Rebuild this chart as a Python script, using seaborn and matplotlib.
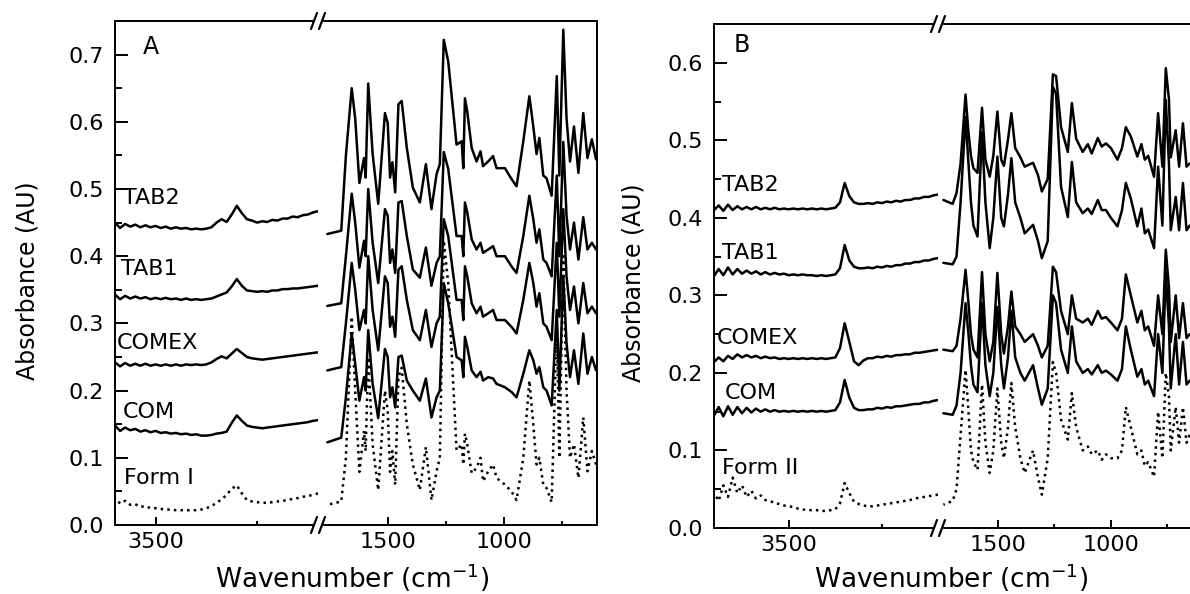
import pandas as pd
import seaborn as sns
import matplotlib.pyplot as plt
from matplotlib.lines import Line2D
from matplotlib.ticker import MultipleLocator, FixedLocator, FormatStrFormatter

# ---------------- data ----------------
# high wavenumber window, panel A (3700 -> 2700)
hw_A = [3700, 3675, 3650, 3625, 3600, 3575, 3550, 3525, 3500, 3475, 3450, 3425, 3400, 3375,
        3350, 3325, 3300, 3275, 3250, 3225, 3200, 3175, 3150, 3125, 3100, 3075, 3050, 3025,
        3000, 2975, 2950, 2925, 2900, 2875, 2850, 2825, 2800, 2775, 2750, 2725, 2700]
tab2_hw_A = [0.450, 0.442, 0.448, 0.444, 0.447, 0.443, 0.446, 0.443, 0.445, 0.442, 0.444, 0.441,
             0.443, 0.441, 0.442, 0.440, 0.441, 0.440, 0.441, 0.443, 0.450, 0.455, 0.451, 0.462,
             0.475, 0.464, 0.455, 0.453, 0.450, 0.452, 0.451, 0.454, 0.453, 0.456, 0.456, 0.459,
             0.458, 0.461, 0.462, 0.465, 0.467]
tab1_hw_A = [0.343, 0.336, 0.341, 0.337, 0.340, 0.337, 0.339, 0.336, 0.338, 0.336, 0.338, 0.336,
             0.337, 0.335, 0.337, 0.335, 0.336, 0.335, 0.336, 0.337, 0.340, 0.343, 0.346, 0.355,
             0.366, 0.356, 0.349, 0.348, 0.347, 0.348, 0.347, 0.349, 0.349, 0.351, 0.351, 0.352,
             0.352, 0.353, 0.354, 0.355, 0.356]
comex_hw_A = [0.242, 0.236, 0.241, 0.237, 0.240, 0.237, 0.240, 0.237, 0.239, 0.237, 0.239, 0.237,
              0.239, 0.237, 0.239, 0.238, 0.239, 0.238, 0.239, 0.242, 0.247, 0.251, 0.248, 0.255,
              0.262, 0.256, 0.250, 0.248, 0.247, 0.246, 0.247, 0.248, 0.249, 0.250, 0.251, 0.252,
              0.253, 0.254, 0.255, 0.256, 0.257]
com_hw_A = [0.148, 0.140, 0.145, 0.141, 0.143, 0.139, 0.141, 0.138, 0.140, 0.137, 0.138, 0.136,
            0.137, 0.135, 0.136, 0.134, 0.135, 0.133, 0.133, 0.134, 0.136, 0.137, 0.139, 0.152,
            0.163, 0.155, 0.148, 0.146, 0.145, 0.144, 0.145, 0.146, 0.147, 0.148, 0.149, 0.150,
            0.151, 0.152, 0.153, 0.155, 0.156]
form1_hw_A = [0.040, 0.032, 0.036, 0.030, 0.031, 0.027, 0.028, 0.025, 0.025, 0.024, 0.023, 0.023,
              0.022, 0.022, 0.022, 0.022, 0.022, 0.023, 0.025, 0.028, 0.033, 0.038, 0.045, 0.054,
              0.059, 0.047, 0.037, 0.035, 0.034, 0.033, 0.033, 0.034, 0.035, 0.036, 0.037, 0.039,
              0.040, 0.042, 0.043, 0.045, 0.047]

# fingerprint window, panel A (1800 -> 600)
fp_A = [1760, 1700, 1680, 1655, 1640, 1622, 1602, 1595, 1584, 1565,
        1541, 1512, 1500, 1490, 1480, 1468, 1454, 1440, 1418, 1392,
        1362, 1336, 1312, 1290, 1276, 1259, 1240, 1204, 1182, 1175,
        1168, 1158, 1139, 1118, 1101, 1090, 1068, 1047, 1032, 996,
        968, 946, 917, 891, 874, 860, 848, 831, 817, 795,
        773, 762, 745, 731, 716, 699, 680, 659, 641, 622, 604]
tab2_fp_A = [0.433, 0.438, 0.55, 0.650, 0.605, 0.509, 0.546, 0.517, 0.657, 0.552,
             0.478, 0.613, 0.598, 0.517, 0.54, 0.495, 0.626, 0.631, 0.561, 0.502,
             0.48, 0.537, 0.47, 0.522, 0.537, 0.722, 0.69, 0.566, 0.571, 0.531,
             0.635, 0.615, 0.561, 0.541, 0.556, 0.534, 0.541, 0.549, 0.531, 0.531,
             0.515, 0.504, 0.571, 0.638, 0.593, 0.552, 0.576, 0.52, 0.516, 0.49,
             0.668, 0.52, 0.737, 0.605, 0.541, 0.593, 0.524, 0.613, 0.546, 0.574, 0.544]
tab1_fp_A = [0.326, 0.33, 0.40, 0.493, 0.45, 0.383, 0.423, 0.40, 0.50, 0.42,
             0.36, 0.47, 0.46, 0.39, 0.41, 0.375, 0.48, 0.482, 0.43, 0.38,
             0.368, 0.413, 0.356, 0.39, 0.40, 0.555, 0.53, 0.43, 0.43, 0.40,
             0.48, 0.465, 0.425, 0.41, 0.42, 0.405, 0.41, 0.415, 0.40, 0.40,
             0.385, 0.375, 0.43, 0.49, 0.455, 0.42, 0.44, 0.395, 0.39, 0.37,
             0.52, 0.40, 0.57, 0.46, 0.41, 0.45, 0.395, 0.458, 0.41, 0.42, 0.41]
comex_fp_A = [0.23, 0.235, 0.30, 0.39, 0.35, 0.29, 0.32, 0.30, 0.40, 0.32,
              0.26, 0.37, 0.36, 0.295, 0.31, 0.28, 0.38, 0.385, 0.335, 0.29,
              0.275, 0.32, 0.265, 0.30, 0.31, 0.455, 0.43, 0.335, 0.335, 0.305,
              0.385, 0.37, 0.33, 0.315, 0.325, 0.31, 0.315, 0.32, 0.305, 0.305,
              0.295, 0.285, 0.335, 0.39, 0.36, 0.325, 0.345, 0.30, 0.295, 0.275,
              0.42, 0.31, 0.47, 0.37, 0.32, 0.355, 0.30, 0.36, 0.315, 0.325, 0.315]
com_fp_A = [0.123, 0.13, 0.19, 0.285, 0.24, 0.185, 0.22, 0.20, 0.29, 0.21,
            0.159, 0.262, 0.25, 0.19, 0.205, 0.175, 0.25, 0.252, 0.215, 0.20,
            0.185, 0.218, 0.16, 0.19, 0.20, 0.36, 0.33, 0.25, 0.245, 0.22,
            0.28, 0.265, 0.23, 0.22, 0.228, 0.215, 0.22, 0.218, 0.21, 0.205,
            0.198, 0.19, 0.225, 0.26, 0.245, 0.225, 0.235, 0.205, 0.20, 0.178,
            0.32, 0.20, 0.37, 0.27, 0.22, 0.26, 0.21, 0.285, 0.225, 0.25, 0.23]
form1_fp_A = [0.03, 0.035, 0.10, 0.31, 0.20, 0.079, 0.14, 0.11, 0.25, 0.12,
              0.052, 0.20, 0.17, 0.079, 0.11, 0.06, 0.22, 0.234, 0.15, 0.09,
              0.052, 0.116, 0.037, 0.08, 0.10, 0.423, 0.36, 0.111, 0.12, 0.09,
              0.136, 0.12, 0.077, 0.085, 0.10, 0.065, 0.08, 0.09, 0.07, 0.06,
              0.05, 0.037, 0.10, 0.215, 0.15, 0.09, 0.10, 0.06, 0.055, 0.034,
              0.30, 0.10, 0.40, 0.20, 0.10, 0.12, 0.07, 0.16, 0.08, 0.11, 0.09]

# high wavenumber window, panel B (3900 -> 2700)
hw_B = [3900, 3875, 3850, 3825, 3800, 3775, 3750, 3725, 3700, 3675, 3650, 3625, 3600, 3575,
        3550, 3525, 3500, 3475, 3450, 3425, 3400, 3375, 3350, 3325, 3300, 3275, 3250, 3225,
        3200, 3175, 3150, 3125, 3100, 3075, 3050, 3025, 3000, 2975, 2950, 2925, 2900, 2875,
        2850, 2825, 2800, 2775, 2750, 2725, 2700]
tab2_hw_B = [0.410, 0.416, 0.409, 0.417, 0.410, 0.415, 0.411, 0.414, 0.411, 0.414, 0.411, 0.413,
             0.411, 0.413, 0.411, 0.412, 0.411, 0.412, 0.411, 0.412, 0.411, 0.412, 0.411, 0.412,
             0.411, 0.412, 0.413, 0.420, 0.445, 0.428, 0.420, 0.418, 0.418, 0.419, 0.418, 0.420,
             0.419, 0.421, 0.420, 0.422, 0.421, 0.423, 0.423, 0.425, 0.425, 0.427, 0.427, 0.429,
             0.430]
tab1_hw_B = [0.325, 0.334, 0.326, 0.336, 0.327, 0.334, 0.328, 0.332, 0.328, 0.331, 0.327, 0.330,
             0.327, 0.329, 0.327, 0.328, 0.326, 0.327, 0.326, 0.327, 0.326, 0.326, 0.325, 0.326,
             0.325, 0.326, 0.327, 0.335, 0.365, 0.345, 0.337, 0.335, 0.335, 0.336, 0.335, 0.337,
             0.336, 0.338, 0.337, 0.339, 0.339, 0.341, 0.341, 0.343, 0.343, 0.345, 0.345, 0.347,
             0.348]
comex_hw_B = [0.214, 0.220, 0.215, 0.222, 0.218, 0.224, 0.220, 0.223, 0.220, 0.222, 0.219, 0.221,
              0.219, 0.220, 0.218, 0.219, 0.218, 0.219, 0.218, 0.219, 0.218, 0.219, 0.218, 0.219,
              0.218, 0.219, 0.220, 0.232, 0.264, 0.240, 0.215, 0.210, 0.216, 0.219, 0.219, 0.221,
              0.220, 0.222, 0.221, 0.223, 0.223, 0.224, 0.224, 0.226, 0.226, 0.227, 0.228, 0.229,
              0.230]
com_hw_B = [0.145, 0.156, 0.144, 0.157, 0.146, 0.156, 0.148, 0.155, 0.149, 0.154, 0.150, 0.153,
            0.150, 0.152, 0.150, 0.151, 0.150, 0.151, 0.150, 0.151, 0.150, 0.151, 0.150, 0.151,
            0.150, 0.151, 0.152, 0.162, 0.191, 0.168, 0.155, 0.152, 0.152, 0.153, 0.153, 0.155,
            0.154, 0.156, 0.155, 0.157, 0.157, 0.158, 0.159, 0.160, 0.160, 0.162, 0.162, 0.164,
            0.165]
form2_hw_B = [0.045, 0.035, 0.055, 0.040, 0.065, 0.045, 0.055, 0.040, 0.048, 0.038, 0.042, 0.036,
              0.035, 0.032, 0.031, 0.029, 0.028, 0.027, 0.025, 0.024, 0.023, 0.023, 0.023, 0.022,
              0.022, 0.023, 0.024, 0.032, 0.058, 0.045, 0.034, 0.031, 0.029, 0.028, 0.028, 0.029,
              0.030, 0.031, 0.032, 0.033, 0.034, 0.035, 0.036, 0.038, 0.039, 0.040, 0.041, 0.042,
              0.043]

# fingerprint window, panel B
fp_B = [1741, 1700, 1683, 1665, 1643, 1630, 1619, 1608, 1590, 1570,
        1555, 1536, 1520, 1502, 1485, 1473, 1455, 1440, 1423, 1400,
        1381, 1344, 1322, 1305, 1279, 1256, 1242, 1220, 1190, 1172,
        1153, 1124, 1101, 1084, 1057, 1040, 1021, 999, 970, 950,
        933, 911, 882, 864, 849, 834, 808, 790, 771, 756,
        742, 734, 712, 697, 680, 664, 650]
tab2_fp_B = [0.423, 0.418, 0.432, 0.47, 0.559, 0.51, 0.48, 0.464, 0.458, 0.542,
             0.475, 0.453, 0.48, 0.537, 0.475, 0.467, 0.501, 0.535, 0.49, 0.478,
             0.466, 0.471, 0.455, 0.434, 0.45, 0.585, 0.583, 0.517, 0.485, 0.548,
             0.502, 0.485, 0.495, 0.483, 0.503, 0.492, 0.496, 0.49, 0.475, 0.49,
             0.517, 0.505, 0.479, 0.495, 0.475, 0.48, 0.453, 0.535, 0.466, 0.593,
             0.553, 0.478, 0.513, 0.466, 0.522, 0.466, 0.47]
tab1_fp_B = [0.342, 0.34, 0.35, 0.42, 0.53, 0.47, 0.42, 0.39, 0.376, 0.51,
             0.42, 0.361, 0.40, 0.479, 0.40, 0.389, 0.43, 0.477, 0.42, 0.40,
             0.38, 0.391, 0.37, 0.348, 0.37, 0.569, 0.56, 0.44, 0.401, 0.472,
             0.42, 0.406, 0.412, 0.405, 0.423, 0.41, 0.41, 0.40, 0.389, 0.41,
             0.445, 0.425, 0.389, 0.412, 0.38, 0.385, 0.361, 0.466, 0.39, 0.552,
             0.47, 0.384, 0.427, 0.384, 0.445, 0.384, 0.39]
comex_fp_B = [0.23, 0.228, 0.235, 0.27, 0.333, 0.29, 0.25, 0.23, 0.22, 0.33,
              0.25, 0.215, 0.24, 0.329, 0.25, 0.225, 0.26, 0.305, 0.26, 0.25,
              0.24, 0.25, 0.235, 0.22, 0.235, 0.337, 0.33, 0.28, 0.25, 0.30,
              0.27, 0.265, 0.27, 0.262, 0.28, 0.27, 0.272, 0.265, 0.255, 0.27,
              0.327, 0.30, 0.265, 0.28, 0.255, 0.26, 0.235, 0.30, 0.25, 0.359,
              0.31, 0.24, 0.30, 0.245, 0.29, 0.245, 0.25]
com_fp_B = [0.148, 0.146, 0.158, 0.20, 0.29, 0.25, 0.21, 0.185, 0.175, 0.29,
            0.21, 0.17, 0.20, 0.285, 0.21, 0.18, 0.22, 0.28, 0.22, 0.20,
            0.19, 0.21, 0.18, 0.159, 0.18, 0.30, 0.29, 0.23, 0.20, 0.26,
            0.215, 0.20, 0.205, 0.198, 0.21, 0.20, 0.203, 0.198, 0.19, 0.205,
            0.26, 0.23, 0.195, 0.205, 0.185, 0.19, 0.17, 0.25, 0.20, 0.33,
            0.26, 0.18, 0.25, 0.185, 0.24, 0.185, 0.19]
form2_fp_B = [0.03, 0.035, 0.05, 0.12, 0.204, 0.15, 0.10, 0.085, 0.075, 0.185,
              0.11, 0.071, 0.10, 0.18, 0.11, 0.09, 0.13, 0.187, 0.13, 0.09,
              0.071, 0.10, 0.065, 0.043, 0.09, 0.214, 0.20, 0.14, 0.114, 0.174,
              0.13, 0.10, 0.105, 0.095, 0.10, 0.088, 0.095, 0.09, 0.09, 0.10,
              0.156, 0.13, 0.095, 0.10, 0.08, 0.085, 0.066, 0.15, 0.09, 0.20,
              0.17, 0.10, 0.156, 0.11, 0.156, 0.11, 0.12]

labels_A = ["TAB2", "TAB1", "COMEX", "COM", "Form I"]
labels_B = ["TAB2", "TAB1", "COMEX", "COM", "Form II"]

# ---------------- style ----------------
sns.set_style("ticks")
plt.rcParams['font.family'] = ['DejaVu Sans']
plt.rcParams.update({'axes.linewidth': 1.4, 'axes.edgecolor': 'black', 'text.color': 'black',
                     'xtick.color': 'black', 'ytick.color': 'black', 'axes.labelcolor': 'black'})

W, H = 1190, 594
fig = plt.figure(figsize=(W / 100, H / 100), dpi=100)


def axes_px(x0, x1, ytop, ybot):
    return fig.add_axes([x0 / W, 1 - ybot / H, (x1 - x0) / W, (ybot - ytop) / H])


def spectrum(ax, x, y, dotted=False):
    sns.lineplot(x=x, y=y, ax=ax, color='black', lw=1.8, estimator=None,
                 linestyle=':' if dotted else '-', legend=False)


def style_axes(axl, axr, ymax, left_lim, right_lim, left_major, left_minor):
    for ax in (axl, axr):
        ax.set_ylim(0, ymax)
        ax.set_xlabel('')
        ax.set_ylabel('')
        ax.tick_params(axis='x', which='major', direction='in', length=6, width=1.4,
                       labelsize=16, pad=5)
        ax.tick_params(axis='x', which='minor', direction='in', length=3, width=1.4)
    axl.set_xlim(*left_lim)
    axr.set_xlim(*right_lim)
    axl.xaxis.set_major_locator(FixedLocator(left_major))
    axl.xaxis.set_minor_locator(FixedLocator(left_minor))
    axr.xaxis.set_major_locator(FixedLocator([1500, 1000]))
    axr.xaxis.set_minor_locator(FixedLocator([1250, 750]))
    axl.yaxis.set_major_locator(MultipleLocator(0.1))
    axl.yaxis.set_minor_locator(MultipleLocator(0.05))
    axl.yaxis.set_major_formatter(FormatStrFormatter('%.1f'))
    axl.tick_params(axis='y', which='major', direction='in', length=9, width=1.4,
                    labelsize=16, pad=8)
    axl.tick_params(axis='y', which='minor', direction='in', length=5, width=1.4)
    axl.spines['right'].set_visible(False)
    axr.spines['left'].set_visible(False)
    axr.tick_params(axis='y', which='both', left=False, labelleft=False)


def break_marks(xpix, ytop, ybot):
    for yy in (ytop, ybot):
        fig.add_artist(Line2D([(xpix - 3) / W, (xpix + 3) / W], [1 - yy / H, 1 - yy / H],
                              color='white', lw=2.5))
        for dx in (-4, 4):
            fig.add_artist(Line2D([(xpix + dx - 3) / W, (xpix + dx + 3) / W],
                                  [1 - (yy + 8) / H, 1 - (yy - 8) / H], color='black', lw=1.6))


# ---------------- panel A ----------------
axAl = axes_px(115, 318, 21, 525)
axAr = axes_px(318, 597, 21, 525)
for hw, fp, dotted in [(tab2_hw_A, tab2_fp_A, False), (tab1_hw_A, tab1_fp_A, False),
                       (comex_hw_A, comex_fp_A, False), (com_hw_A, com_fp_A, False),
                       (form1_hw_A, form1_fp_A, True)]:
    spectrum(axAl, hw_A, hw, dotted)
    spectrum(axAr, fp_A, fp, dotted)
style_axes(axAl, axAr, 0.75, (3700, 2700), (1800, 600), [3500], [3000])

for lab, yv, xv in zip(labels_A, [0.487, 0.381, 0.271, 0.168, 0.070],
                       [3660, 3670, 3690, 3660, 3655]):
    axAl.text(xv, yv, lab, fontsize=16, va='center', ha='left')
axAl.text(3565, 0.712, "A", fontsize=17, va='center', ha='left')

# ---------------- panel B ----------------
axBl = axes_px(714, 938, 24, 528)
axBr = axes_px(938, 1201, 24, 528)
for hw, fp, dotted in [(tab2_hw_B, tab2_fp_B, False), (tab1_hw_B, tab1_fp_B, False),
                       (comex_hw_B, comex_fp_B, False), (com_hw_B, com_fp_B, False),
                       (form2_hw_B, form2_fp_B, True)]:
    spectrum(axBl, hw_B, hw, dotted)
    spectrum(axBr, fp_B, fp, dotted)
style_axes(axBl, axBr, 0.65, (3900, 2700), (1765, 600), [3500], [3000])

for lab, yv, xv in zip(labels_B, [0.443, 0.355, 0.245, 0.174, 0.077],
                       [3855, 3855, 3885, 3840, 3855]):
    axBl.text(xv, yv, lab, fontsize=16, va='center', ha='left')
axBl.text(3795, 0.623, "B", fontsize=17, va='center', ha='left')

# axis titles
for xc, yc in [(28, 281), (633, 283)]:
    fig.text(xc / W, 1 - yc / H, "Absorbance (AU)", rotation=90, fontsize=17,
             ha='center', va='center')
for xc in (352, 951):
    fig.text(xc / W, 1 - 578 / H, "Wavenumber (cm$^{-1}$)", fontsize=19,
             ha='center', va='center')

break_marks(318, 21, 525)
break_marks(938, 24, 528)

fig.savefig("out.png", dpi=100)
